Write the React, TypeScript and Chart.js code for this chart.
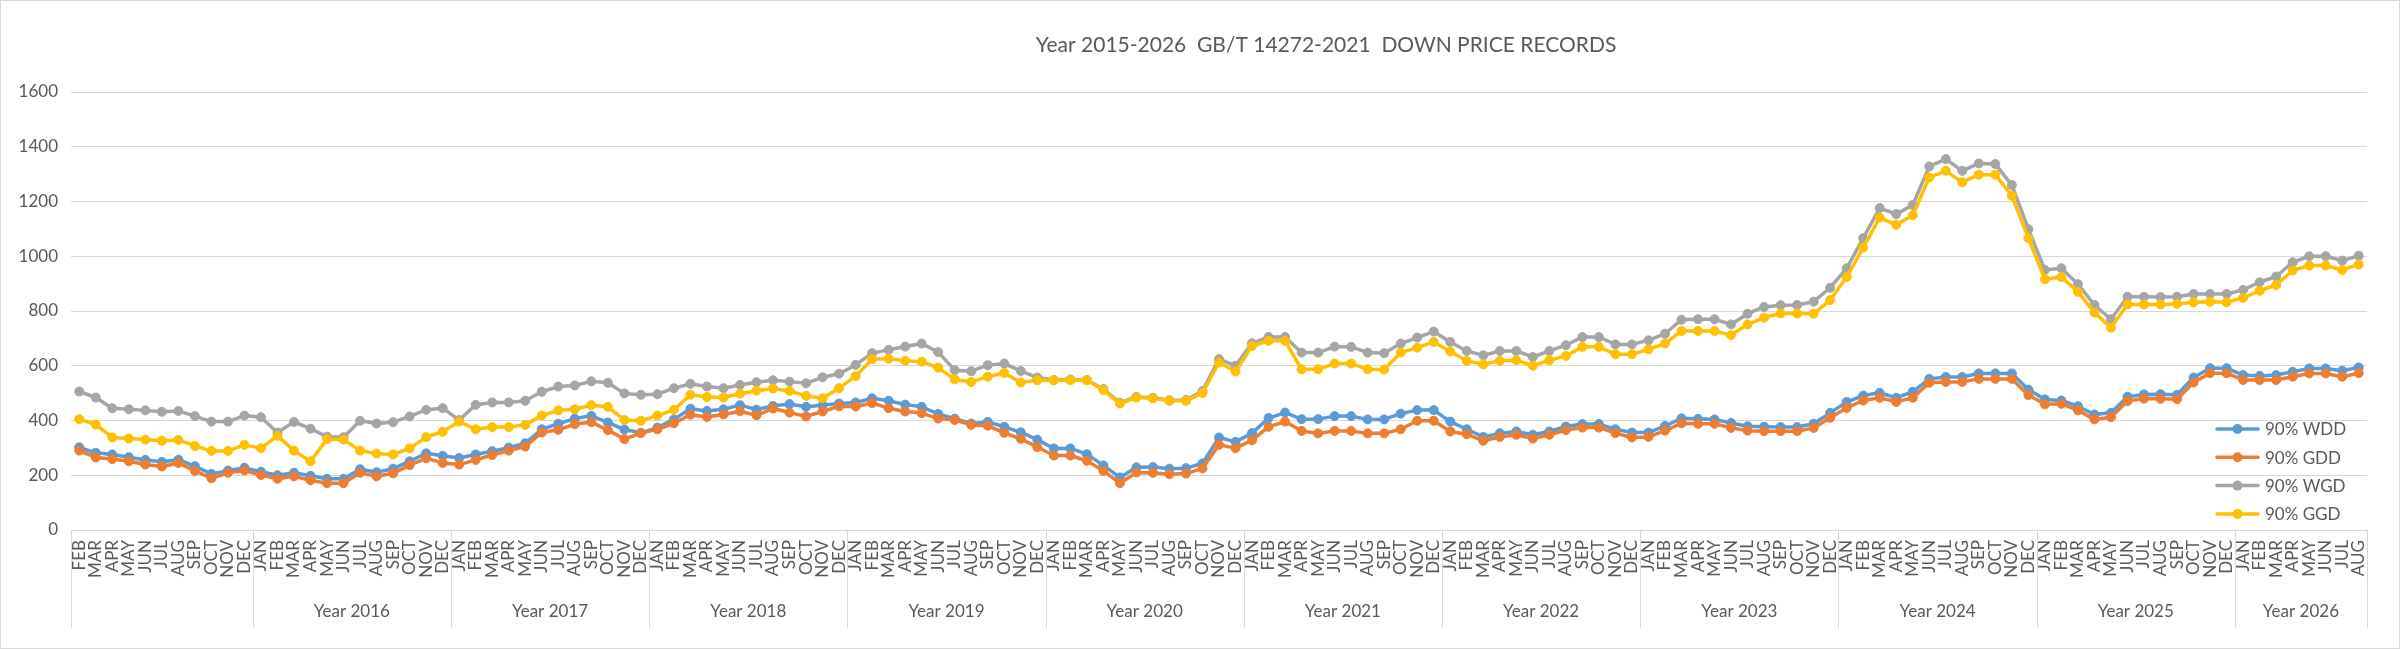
import React, { useEffect, useRef } from "react";
import { Chart, registerables } from "chart.js";

Chart.register(...registerables);

const chartTitle = "Year 2015-2026  GB/T 14272-2021  DOWN PRICE RECORDS";

const monthNames = ["JAN", "FEB", "MAR", "APR", "MAY", "JUN", "JUL", "AUG", "SEP", "OCT", "NOV", "DEC"];
const groupLabels = ["", "Year 2016", "Year 2017", "Year 2018", "Year 2019", "Year 2020", "Year 2021", "Year 2022", "Year 2023", "Year 2024", "Year 2025", "Year 2026"];
const groupFirstMonth = [1, 0, 0, 0, 0, 0, 0, 0, 0, 0, 0, 0];
const groupMonthCounts = [11, 12, 12, 12, 12, 12, 12, 12, 12, 12, 12, 8];

const seriesNames = ["90% WDD", "90% GDD", "90% WGD", "90% GGD"];
const seriesColors = ["#5B9BD5", "#ED7D31", "#A5A5A5", "#FFC000"];

const wdd = [
  302, 282, 276, 266, 256, 249, 257, 233, 205, 217, 227,
  213, 200, 209, 198, 187, 187, 222, 211, 224, 251, 280, 271,
  263, 276, 288, 301, 317, 368, 388, 407, 417, 393, 367, 355,
  374, 404, 443, 435, 441, 456, 440, 453, 460, 450, 456, 462,
  466, 481, 472, 458, 450, 424, 407, 389, 395, 377, 357, 330,
  298, 298, 277, 236, 192, 229, 230, 224, 226, 243, 338, 322,
  354, 409, 429, 405, 405, 416, 416, 404, 404, 425, 438, 438,
  396, 368, 340, 353, 360, 348, 360, 378, 387, 387, 368, 356,
  356, 380, 408, 406, 404, 391, 379, 377, 376, 376, 388, 428,
  468, 491, 501, 483, 505, 552, 559, 559, 572, 572, 572, 513,
  477, 473, 452, 422, 428, 487, 495, 496, 494, 557, 591, 591,
  566, 563, 566, 578, 590, 590, 582, 594,
];

const gdd = [
  290, 265, 259, 251, 239, 232, 245, 216, 189, 209, 217,
  201, 187, 196, 182, 171, 171, 209, 196, 207, 237, 262, 245,
  239, 256, 274, 290, 305, 356, 366, 387, 394, 365, 332, 354,
  368, 390, 421, 413, 422, 434, 419, 444, 429, 415, 433, 452,
  451, 464, 445, 433, 427, 407, 402, 384, 381, 355, 333, 303,
  272, 272, 253, 216, 171, 210, 209, 204, 206, 225, 311, 299,
  328, 377, 396, 362, 353, 362, 362, 353, 353, 368, 399, 399,
  360, 350, 326, 340, 348, 334, 348, 365, 374, 374, 354, 338,
  340, 363, 390, 388, 388, 373, 363, 361, 361, 361, 373, 410,
  446, 473, 483, 468, 483, 538, 541, 541, 552, 552, 552, 493,
  459, 461, 437, 404, 412, 471, 480, 479, 478, 539, 573, 573,
  548, 548, 548, 560, 572, 572, 560, 573,
];

const wgd = [
  506, 484, 445, 441, 437, 432, 435, 416, 396, 396, 418,
  412, 356, 395, 370, 341, 339, 399, 389, 394, 415, 439, 445,
  402, 457, 466, 466, 472, 505, 524, 528, 543, 538, 499, 494,
  496, 518, 534, 524, 518, 530, 540, 547, 542, 536, 558, 571,
  603, 646, 658, 670, 681, 650, 584, 580, 602, 608, 581, 557,
  548, 550, 548, 515, 465, 486, 483, 474, 475, 508, 624, 600,
  682, 705, 705, 648, 648, 670, 669, 648, 646, 681, 703, 725,
  687, 654, 638, 654, 654, 632, 654, 675, 705, 705, 678, 678,
  693, 717, 768, 770, 770, 751, 790, 815, 821, 822, 834, 885,
  956, 1066, 1176, 1154, 1187, 1328, 1355, 1312, 1339, 1337, 1260, 1099,
  950, 956, 898, 822, 770, 852, 852, 851, 852, 862, 862, 862,
  877, 905, 926, 978, 1000, 1000, 984, 1002,
];

const ggd = [
  405, 385, 338, 334, 330, 326, 329, 307, 289, 289, 311,
  299, 344, 290, 251, 332, 330, 290, 279, 276, 298, 339, 359,
  396, 368, 376, 376, 384, 418, 437, 441, 456, 450, 402, 399,
  418, 439, 494, 486, 484, 498, 509, 517, 508, 490, 481, 518,
  562, 624, 626, 618, 615, 593, 550, 541, 560, 574, 539, 547,
  547, 547, 547, 511, 462, 484, 481, 472, 472, 500, 612, 579,
  672, 691, 691, 587, 587, 608, 608, 587, 586, 648, 666, 687,
  652, 618, 605, 618, 620, 600, 620, 636, 669, 669, 642, 642,
  660, 681, 727, 727, 727, 712, 751, 776, 791, 791, 790, 840,
  924, 1032, 1141, 1115, 1150, 1288, 1312, 1270, 1298, 1298, 1221, 1066,
  916, 924, 870, 794, 739, 824, 824, 824, 826, 832, 834, 832,
  848, 874, 895, 948, 966, 966, 950, 970,
];

const seriesValues = [wdd, gdd, wgd, ggd];

const yTicksMin = 0;
const yTicksMax = 1600;
const yTicksStep = 200;

const categories: string[] = [];
groupMonthCounts.forEach((count, g) => {
  for (let m = 0; m < count; m++) categories.push(monthNames[groupFirstMonth[g] + m]);
});

const FONT = "Lato, 'Open Sans', sans-serif";
const TEXT = "#595959";
const GRID = "#D9D9D9";

const decorPlugin = {
  id: "decor",
  afterDraw(chart: any) {
    const { ctx, chartArea, scales } = chart;
    const x = scales.x;
    ctx.save();

    // chart border
    ctx.strokeStyle = GRID;
    ctx.lineWidth = 1;
    ctx.strokeRect(0.5, 0.5, chart.width - 1, chart.height - 1);

    // title
    ctx.fillStyle = TEXT;
    ctx.font = `21px ${FONT}`;
    ctx.textAlign = "center";
    ctx.textBaseline = "alphabetic";
    ctx.fillText(chartTitle, chart.width * 0.5525, 52);

    // group separators and labels
    const bounds: number[] = [-0.5];
    let acc = 0;
    groupMonthCounts.forEach((c) => {
      acc += c;
      bounds.push(acc - 0.5);
    });
    const bottom = chartArea.bottom;
    ctx.strokeStyle = GRID;
    ctx.lineWidth = 1;
    bounds.forEach((b) => {
      const px = Math.round(x.getPixelForValue(b)) + 0.5;
      ctx.beginPath();
      ctx.moveTo(px, bottom);
      ctx.lineTo(px, bottom + 98);
      ctx.stroke();
    });
    ctx.font = `17px ${FONT}`;
    ctx.fillStyle = TEXT;
    ctx.textAlign = "center";
    ctx.textBaseline = "middle";
    groupLabels.forEach((label, g) => {
      if (!label) return;
      const cx = (x.getPixelForValue(bounds[g]) + x.getPixelForValue(bounds[g + 1])) / 2;
      ctx.fillText(label, cx, bottom + 82);
    });

    // legend
    const right = chartArea.right;
    chart.data.datasets.forEach((ds: any, i: number) => {
      const cy = bottom - 101 + i * 28.3;
      ctx.strokeStyle = ds.borderColor;
      ctx.lineWidth = 3.5;
      ctx.lineCap = "round";
      ctx.beginPath();
      ctx.moveTo(right - 150, cy);
      ctx.lineTo(right - 109, cy);
      ctx.stroke();
      ctx.fillStyle = ds.borderColor;
      ctx.beginPath();
      ctx.arc(right - 129.5, cy, 5, 0, Math.PI * 2);
      ctx.fill();
      ctx.fillStyle = TEXT;
      ctx.font = `17px ${FONT}`;
      ctx.textAlign = "left";
      ctx.textBaseline = "middle";
      ctx.fillText(ds.label, right - 102, cy + 1);
    });

    ctx.restore();
  },
};

export default function App() {
  const canvasRef = useRef<HTMLCanvasElement | null>(null);

  useEffect(() => {
    document.body.style.margin = "0";
    const canvas = canvasRef.current;
    if (!canvas) return;
    Chart.defaults.font.family = FONT;
    Chart.defaults.color = TEXT;

    const chart = new Chart(canvas, {
      type: "line",
      data: {
        labels: categories,
        datasets: seriesNames.map((name, i) => ({
          label: name,
          data: seriesValues[i],
          borderColor: seriesColors[i],
          backgroundColor: seriesColors[i],
          pointBackgroundColor: seriesColors[i],
          pointBorderColor: seriesColors[i],
          borderWidth: 3.5,
          pointRadius: 4.5,
          pointBorderWidth: 1,
          pointHoverRadius: 4.5,
          tension: 0,
          fill: false,
          borderJoinStyle: "round" as const,
          borderCapStyle: "round" as const,
          order: seriesNames.length - i,
        })),
      },
      options: {
        responsive: false,
        animation: false,
        devicePixelRatio: 1,
        layout: { padding: { top: 92, right: 33, left: 0, bottom: 0 } },
        plugins: {
          legend: { display: false },
          title: { display: false },
          tooltip: { enabled: false },
        },
        scales: {
          x: {
            type: "category",
            offset: true,
            grid: { display: false, drawTicks: false },
            border: { display: false },
            ticks: {
              autoSkip: false,
              maxRotation: 90,
              minRotation: 90,
              padding: 10,
              color: TEXT,
              font: { family: FONT, size: 17 },
            },
            afterFit: (scale: any) => {
              scale.height = 119;
            },
          },
          y: {
            min: yTicksMin,
            max: yTicksMax,
            grid: { color: GRID, lineWidth: 1, drawTicks: false },
            border: { display: false },
            ticks: {
              stepSize: yTicksStep,
              padding: 13,
              color: TEXT,
              font: { family: FONT, size: 17 },
              callback: (value: any) => String(value),
            },
            afterFit: (scale: any) => {
              scale.width = 71;
            },
          },
        },
      },
      plugins: [decorPlugin],
    });

    return () => chart.destroy();
  }, []);

  return (
    <div style={{ width: 2400, height: 649 }}>
      <canvas ref={canvasRef} width={2400} height={649} style={{ display: "block", width: 2400, height: 649 }} />
    </div>
  );
}
